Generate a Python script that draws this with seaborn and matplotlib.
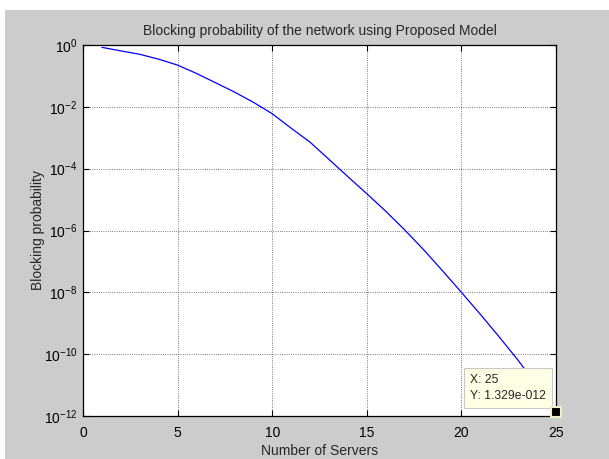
import numpy as np
import pandas as pd
import seaborn as sns
import matplotlib.pyplot as plt
from matplotlib.patches import Rectangle
from matplotlib.ticker import NullLocator

# data
servers = list(range(1, 26))
blocking = [0.84, 0.645, 0.50, 0.347, 0.224, 0.120, 0.0603, 0.0302, 0.0141, 6.0e-3,
            2.04e-3, 7.2e-4, 2.0e-4, 5.5e-5, 1.55e-5, 4.2e-6, 1.05e-6, 2.4e-7, 5.0e-8,
            1.0e-8, 1.95e-9, 3.6e-10, 6.3e-11, 9.5e-12, 1.329e-12]
x_ticks = [0, 5, 10, 15, 20, 25]
y_ticks = [1e0, 1e-2, 1e-4, 1e-6, 1e-8, 1e-10, 1e-12]
tip_x, tip_y = 25, 1.329e-12

df = pd.DataFrame({'servers': servers, 'blocking': blocking})

sns.set_style('ticks')
plt.rcParams['font.family'] = ['Liberation Sans', 'DejaVu Sans']
plt.rcParams['mathtext.default'] = 'regular'

fig = plt.figure(figsize=(6.09, 4.59), dpi=100, facecolor='white')
# MATLAB-like grey figure area, with a thin white margin top/left
fig.add_artist(Rectangle((5 / 609, 0), 1 - 5 / 609, 1 - 10 / 459, transform=fig.transFigure,
                         facecolor='#cccccc', edgecolor='none', zorder=-10))
ax = fig.add_axes([83 / 609, 43 / 459, 473 / 609, 371 / 459])
ax.set_facecolor('white')

sns.lineplot(data=df, x='servers', y='blocking', color='#0000ff', linewidth=0.9, ax=ax)
ax.set_yscale('log')
ax.set_xlim(0, 25)
ax.set_ylim(1e-12, 1e0)
ax.set_xticks(x_ticks)
ax.set_yticks(y_ticks)
ax.yaxis.set_minor_locator(NullLocator())

ax.grid(True, color='#505050', linestyle=':', linewidth=0.6)
for s in ax.spines.values():
    s.set_visible(True)
    s.set_color('black')
    s.set_linewidth(0.9)
ax.tick_params(direction='in', length=4, width=0.8, top=True, right=True,
               labelsize=10, colors='black', pad=4)
ax.tick_params(axis='x', pad=7)

ax.set_title('Blocking probability of the network using Proposed Model', fontsize=10, pad=7)
ax.set_xlabel('Number of Servers', fontsize=10, labelpad=3)
ax.set_ylabel('Blocking probability', fontsize=10, labelpad=-1)

# data tip
ax.annotate(f'X: {tip_x}\nY: 1.329e-012', xy=(tip_x, tip_y), xytext=(-86, 10),
            textcoords='offset pixels', ha='left', va='bottom', fontsize=8.7, linespacing=1.45,
            bbox=dict(boxstyle='square,pad=0.5', facecolor='#ffffe6', edgecolor='#c8c8c8', linewidth=0.8),
            zorder=5)
ax.plot([tip_x], [tip_y], marker='s', markersize=7, color='black', markeredgecolor='#f2eec8',
        markeredgewidth=1.5, clip_on=False, zorder=6)

fig.savefig('out.png', dpi=100, facecolor=fig.get_facecolor())
